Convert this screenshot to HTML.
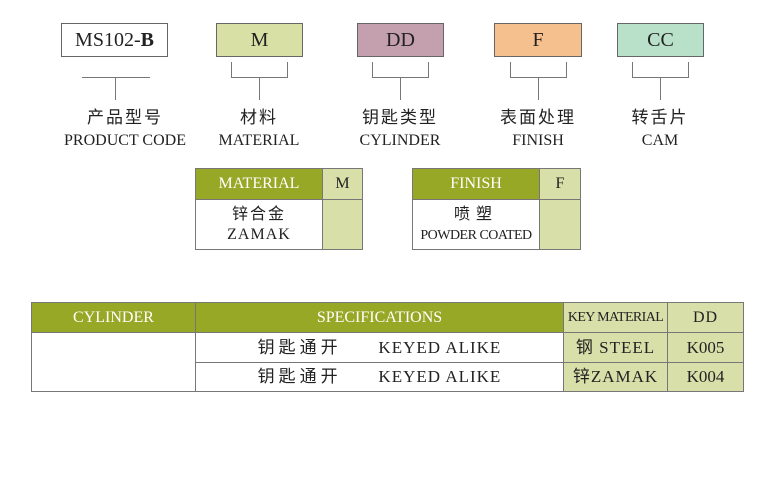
<!DOCTYPE html>
<html><head><meta charset="utf-8"><style>
body{margin:0;width:778px;height:500px;background:#fff;position:relative;overflow:hidden;font-family:"Liberation Serif","Noto Serif CJK SC",serif;color:#222}
.a{position:absolute;box-sizing:border-box}
.box{border:1px solid #666;text-align:center;font-size:20px;line-height:32px;height:34px}
.ln{position:absolute;background:#777}
.lab{position:absolute;text-align:center;width:160px;font-size:16px;line-height:22px}
.g{background:#97a826;color:#fff}
.lg{background:#d9dfa9}
.c{text-align:center;border:1px solid #777}
.cjk{font-family:"Liberation Sans","Noto Sans CJK SC",sans-serif}
.sp{font-size:17px;letter-spacing:1px}
.sp .cjk{letter-spacing:4px}
</style></head><body>
<div class="a box" style="left:61px;top:23px;width:107px">MS102-<b>B</b></div>
<div class="a box" style="left:216px;top:23px;width:87px;background:#d9e0a6">M</div>
<div class="a box" style="left:357px;top:23px;width:87px;background:#c49fae">DD</div>
<div class="a box" style="left:494px;top:23px;width:88px;background:#f6c08e">F</div>
<div class="a box" style="left:617px;top:23px;width:87px;background:#b9e0c8">CC</div>

<div class="ln" style="left:82px;top:77px;width:68px;height:1px"></div>
<div class="ln" style="left:115px;top:77px;width:1px;height:23px"></div>

<div class="ln" style="left:231px;top:62px;width:1px;height:16px"></div>
<div class="ln" style="left:287px;top:62px;width:1px;height:16px"></div>
<div class="ln" style="left:231px;top:77px;width:57px;height:1px"></div>
<div class="ln" style="left:259px;top:77px;width:1px;height:23px"></div>

<div class="ln" style="left:372px;top:62px;width:1px;height:16px"></div>
<div class="ln" style="left:428px;top:62px;width:1px;height:16px"></div>
<div class="ln" style="left:372px;top:77px;width:57px;height:1px"></div>
<div class="ln" style="left:400px;top:77px;width:1px;height:23px"></div>

<div class="ln" style="left:510px;top:62px;width:1px;height:16px"></div>
<div class="ln" style="left:566px;top:62px;width:1px;height:16px"></div>
<div class="ln" style="left:510px;top:77px;width:57px;height:1px"></div>
<div class="ln" style="left:538px;top:77px;width:1px;height:23px"></div>

<div class="ln" style="left:632px;top:62px;width:1px;height:16px"></div>
<div class="ln" style="left:688px;top:62px;width:1px;height:16px"></div>
<div class="ln" style="left:632px;top:77px;width:57px;height:1px"></div>
<div class="ln" style="left:660px;top:77px;width:1px;height:23px"></div>

<div class="lab" style="left:45px;top:107px"><span class="cjk" style="font-size:17px;letter-spacing:2px">产品型号</span><br>PRODUCT CODE</div>
<div class="lab" style="left:179px;top:107px"><span class="cjk" style="font-size:17px;letter-spacing:2px">材料</span><br>MATERIAL</div>
<div class="lab" style="left:320px;top:107px"><span class="cjk" style="font-size:17px;letter-spacing:2px">钥匙类型</span><br>CYLINDER</div>
<div class="lab" style="left:458px;top:107px"><span class="cjk" style="font-size:17px;letter-spacing:2px">表面处理</span><br>FINISH</div>
<div class="lab" style="left:580px;top:107px"><span class="cjk" style="font-size:17px;letter-spacing:2px">转舌片</span><br>CAM</div>

<div class="a g c" style="left:195px;top:168px;width:128px;height:32px;line-height:30px;font-size:16px">MATERIAL</div>
<div class="a lg c" style="left:322px;top:168px;width:41px;height:32px;line-height:30px;font-size:16px">M</div>
<div class="a c" style="left:195px;top:199px;width:128px;height:51px;font-size:16px;line-height:20px;padding-top:5px;letter-spacing:1px"><span class="cjk" style="letter-spacing:2px">锌合金</span><br>ZAMAK</div>
<div class="a lg c" style="left:322px;top:199px;width:41px;height:51px"></div>

<div class="a g c" style="left:412px;top:168px;width:128px;height:32px;line-height:30px;font-size:16px">FINISH</div>
<div class="a lg c" style="left:539px;top:168px;width:42px;height:32px;line-height:30px;font-size:16px">F</div>
<div class="a c" style="left:412px;top:199px;width:128px;height:51px;font-size:14px;line-height:20px;padding-top:5px;white-space:nowrap;letter-spacing:-0.5px"><span class="cjk" style="font-size:16px;letter-spacing:6px">喷塑</span><br>POWDER COATED</div>
<div class="a lg c" style="left:539px;top:199px;width:42px;height:51px"></div>

<div class="a g c" style="left:31px;top:302px;width:165px;height:31px;line-height:29px;font-size:16px">CYLINDER</div>
<div class="a g c" style="left:195px;top:302px;width:369px;height:31px;line-height:29px;font-size:16px">SPECIFICATIONS</div>
<div class="a lg c" style="left:563px;top:302px;width:105px;height:31px;line-height:29px;font-size:14px;letter-spacing:-0.6px;white-space:nowrap">KEY MATERIAL</div>
<div class="a lg c" style="left:667px;top:302px;width:77px;height:31px;line-height:29px;font-size:16px;letter-spacing:1px">DD</div>
<div class="a c" style="left:31px;top:332px;width:165px;height:60px"></div>
<div class="a c sp" style="left:195px;top:332px;width:369px;height:31px;line-height:29px"><span class="cjk">钥匙通开</span>&nbsp;&nbsp;&nbsp;&nbsp;&nbsp;&nbsp;&nbsp;KEYED ALIKE</div>
<div class="a c sp" style="left:195px;top:362px;width:369px;height:30px;line-height:28px"><span class="cjk">钥匙通开</span>&nbsp;&nbsp;&nbsp;&nbsp;&nbsp;&nbsp;&nbsp;KEYED ALIKE</div>
<div class="a lg c" style="left:563px;top:332px;width:105px;height:31px;line-height:29px;font-size:17px;letter-spacing:1px"><span class="cjk">钢</span> STEEL</div>
<div class="a lg c" style="left:563px;top:362px;width:105px;height:30px;line-height:28px;font-size:17px;letter-spacing:1px"><span class="cjk">锌</span>ZAMAK</div>
<div class="a lg c" style="left:667px;top:332px;width:77px;height:31px;line-height:29px;font-size:17px">K005</div>
<div class="a lg c" style="left:667px;top:362px;width:77px;height:30px;line-height:28px;font-size:17px">K004</div>
</body></html>
